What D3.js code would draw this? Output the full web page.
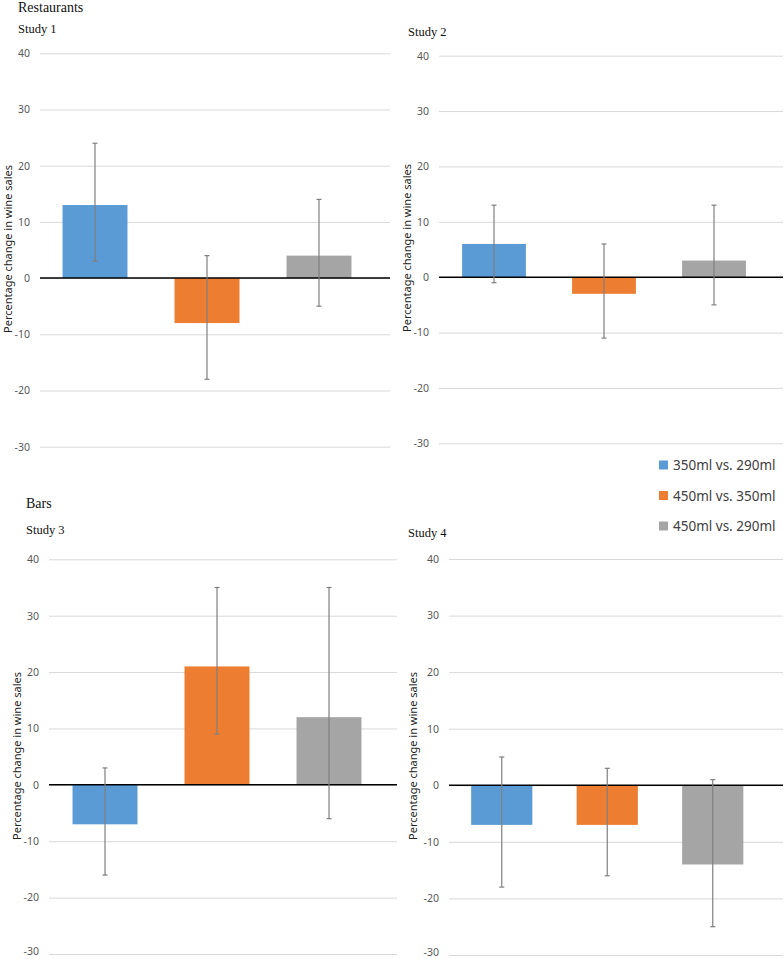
<!DOCTYPE html>
<html>
<head>
<meta charset="utf-8">
<script src="https://cdn.jsdelivr.net/npm/d3@7"></script>
<style>
  body { margin: 0; background: #fff; }
  svg { display: block; }
  .tick text { font-family: "Noto Sans", sans-serif; font-size: 10.5px; fill: #595959; }
  .heading { font-family: "Liberation Serif", "Times New Roman", serif; fill: #111; }
</style>
</head>
<body>
<svg id="chart" width="784" height="959"></svg>
<script>
// series (comparisons)
const series = ["350ml vs. 290ml", "450ml vs. 350ml", "450ml vs. 290ml"];
const colors = ["#5B9BD5", "#ED7D31", "#A5A5A5"];
const yTicks = [40, 30, 20, 10, 0, -10, -20, -30];

// values per study: mean, lower and upper error limit
const study1 = [13, -8, 4];
const study1Low = [3, -18, -5];
const study1High = [24, 4, 14];

const study2 = [6, -3, 3];
const study2Low = [-1, -11, -5];
const study2High = [13, 6, 13];

const study3 = [-7, 21, 12];
const study3Low = [-16, 9, -6];
const study3High = [3, 35, 35];

const study4 = [-7, -7, -14];
const study4Low = [-18, -16, -25];
const study4High = [5, 3, 1];

const svg = d3.select("#chart");

// placement of each panel
const panels = [
  { vals: study1, lo: study1Low, hi: study1High, gx0: 40, gx1: 390, bx0: 39, bx1: 375, yTop: 53.3, yBot: 446.7, titleX: 7, titleY: 249 },
  { vals: study2, lo: study2Low, hi: study2High, gx0: 439, gx1: 783, bx0: 439, bx1: 769, yTop: 55.7, yBot: 443.3, titleX: 406, titleY: 248 },
  { vals: study3, lo: study3Low, hi: study3High, gx0: 49, gx1: 397, bx0: 49, bx1: 385, yTop: 559.3, yBot: 954, titleX: 16, titleY: 756 },
  { vals: study4, lo: study4Low, hi: study4High, gx0: 449, gx1: 783, bx0: 449, bx1: 765.5, yTop: 559, yBot: 955, titleX: 412, titleY: 756 }
];

function drawPanel(p) {
  let y = d3.scaleLinear().domain([-30, 40]).range([p.yBot, p.yTop]);
  let x = d3.scaleBand().domain(series).range([p.bx0, p.bx1]).paddingInner(0.42).paddingOuter(0.21);

  let g = svg.append("g");

  // gridlines + tick labels (plain hyphen for negatives, as in the original)
  let axis = d3.axisLeft(y).tickValues(yTicks).tickSize(-(p.gx1 - p.gx0)).tickPadding(10).tickFormat(d => String(d));
  let ax = g.append("g").attr("transform", `translate(${p.gx0},0)`).call(axis);
  ax.select(".domain").remove();
  ax.selectAll(".tick line").attr("stroke", "#d9d9d9").attr("stroke-width", 1);
  // keep the lowest label inside the page
  if (p.yBot > 950) {
    ax.selectAll(".tick text").filter(d => d === -30).attr("dy", "0.05em");
  }

  // bars
  g.selectAll("rect.bar")
    .data(p.vals)
    .enter()
    .append("rect")
    .attr("class", "bar")
    .attr("x", (d, i) => x(series[i]))
    .attr("width", x.bandwidth())
    .attr("y", d => y(Math.max(0, d)))
    .attr("height", d => Math.abs(y(d) - y(0)))
    .attr("fill", (d, i) => colors[i]);

  // zero line
  g.append("line")
    .attr("x1", p.gx0).attr("x2", p.gx1)
    .attr("y1", y(0)).attr("y2", y(0))
    .attr("stroke", "#000").attr("stroke-width", 1.5);

  // error bars
  let eb = g.selectAll("g.err")
    .data(p.vals.map((d, i) => ({ i: i, lo: p.lo[i], hi: p.hi[i] })))
    .enter()
    .append("g")
    .attr("stroke", "#7f7f7f")
    .attr("stroke-width", 1.2);
  eb.append("line")
    .attr("x1", d => x(series[d.i]) + x.bandwidth() / 2)
    .attr("x2", d => x(series[d.i]) + x.bandwidth() / 2)
    .attr("y1", d => y(d.lo)).attr("y2", d => y(d.hi));
  eb.append("line")
    .attr("x1", d => x(series[d.i]) + x.bandwidth() / 2 - 2.5)
    .attr("x2", d => x(series[d.i]) + x.bandwidth() / 2 + 2.5)
    .attr("y1", d => y(d.lo)).attr("y2", d => y(d.lo));
  eb.append("line")
    .attr("x1", d => x(series[d.i]) + x.bandwidth() / 2 - 2.5)
    .attr("x2", d => x(series[d.i]) + x.bandwidth() / 2 + 2.5)
    .attr("y1", d => y(d.hi)).attr("y2", d => y(d.hi));

  // y-axis title
  g.append("text")
    .attr("transform", `translate(${p.titleX},${p.titleY}) rotate(-90)`)
    .attr("text-anchor", "middle")
    .attr("dominant-baseline", "central")
    .attr("font-family", "Noto Sans, sans-serif")
    .attr("font-size", 11)
    .attr("fill", "#222")
    .text("Percentage change in wine sales");
}

panels.forEach(drawPanel);

// headings
const headings = [
  { t: "Restaurants", x: 18, y: 12, s: 14 },
  { t: "Study 1", x: 18, y: 33, s: 12.5 },
  { t: "Study 2", x: 408, y: 36, s: 12.5 },
  { t: "Bars", x: 26, y: 508, s: 14 },
  { t: "Study 3", x: 26, y: 534, s: 12.5 },
  { t: "Study 4", x: 408, y: 537, s: 12.5 }
];
svg.selectAll("text.heading")
  .data(headings)
  .enter()
  .append("text")
  .attr("class", "heading")
  .attr("x", d => d.x)
  .attr("y", d => d.y)
  .attr("font-size", d => d.s)
  .text(d => d.t);

// legend
let legend = svg.selectAll("g.legend")
  .data(series)
  .enter()
  .append("g")
  .attr("transform", (d, i) => `translate(659, ${465 + i * 30.5})`);
legend.append("rect")
  .attr("x", 0).attr("y", -4.5)
  .attr("width", 9).attr("height", 9)
  .attr("fill", (d, i) => colors[i]);
legend.append("text")
  .attr("x", 14)
  .attr("dominant-baseline", "central")
  .attr("font-family", "Noto Sans, sans-serif")
  .attr("font-size", 13.5)
  .attr("fill", "#404040")
  .text(d => d);
</script>
</body>
</html>
